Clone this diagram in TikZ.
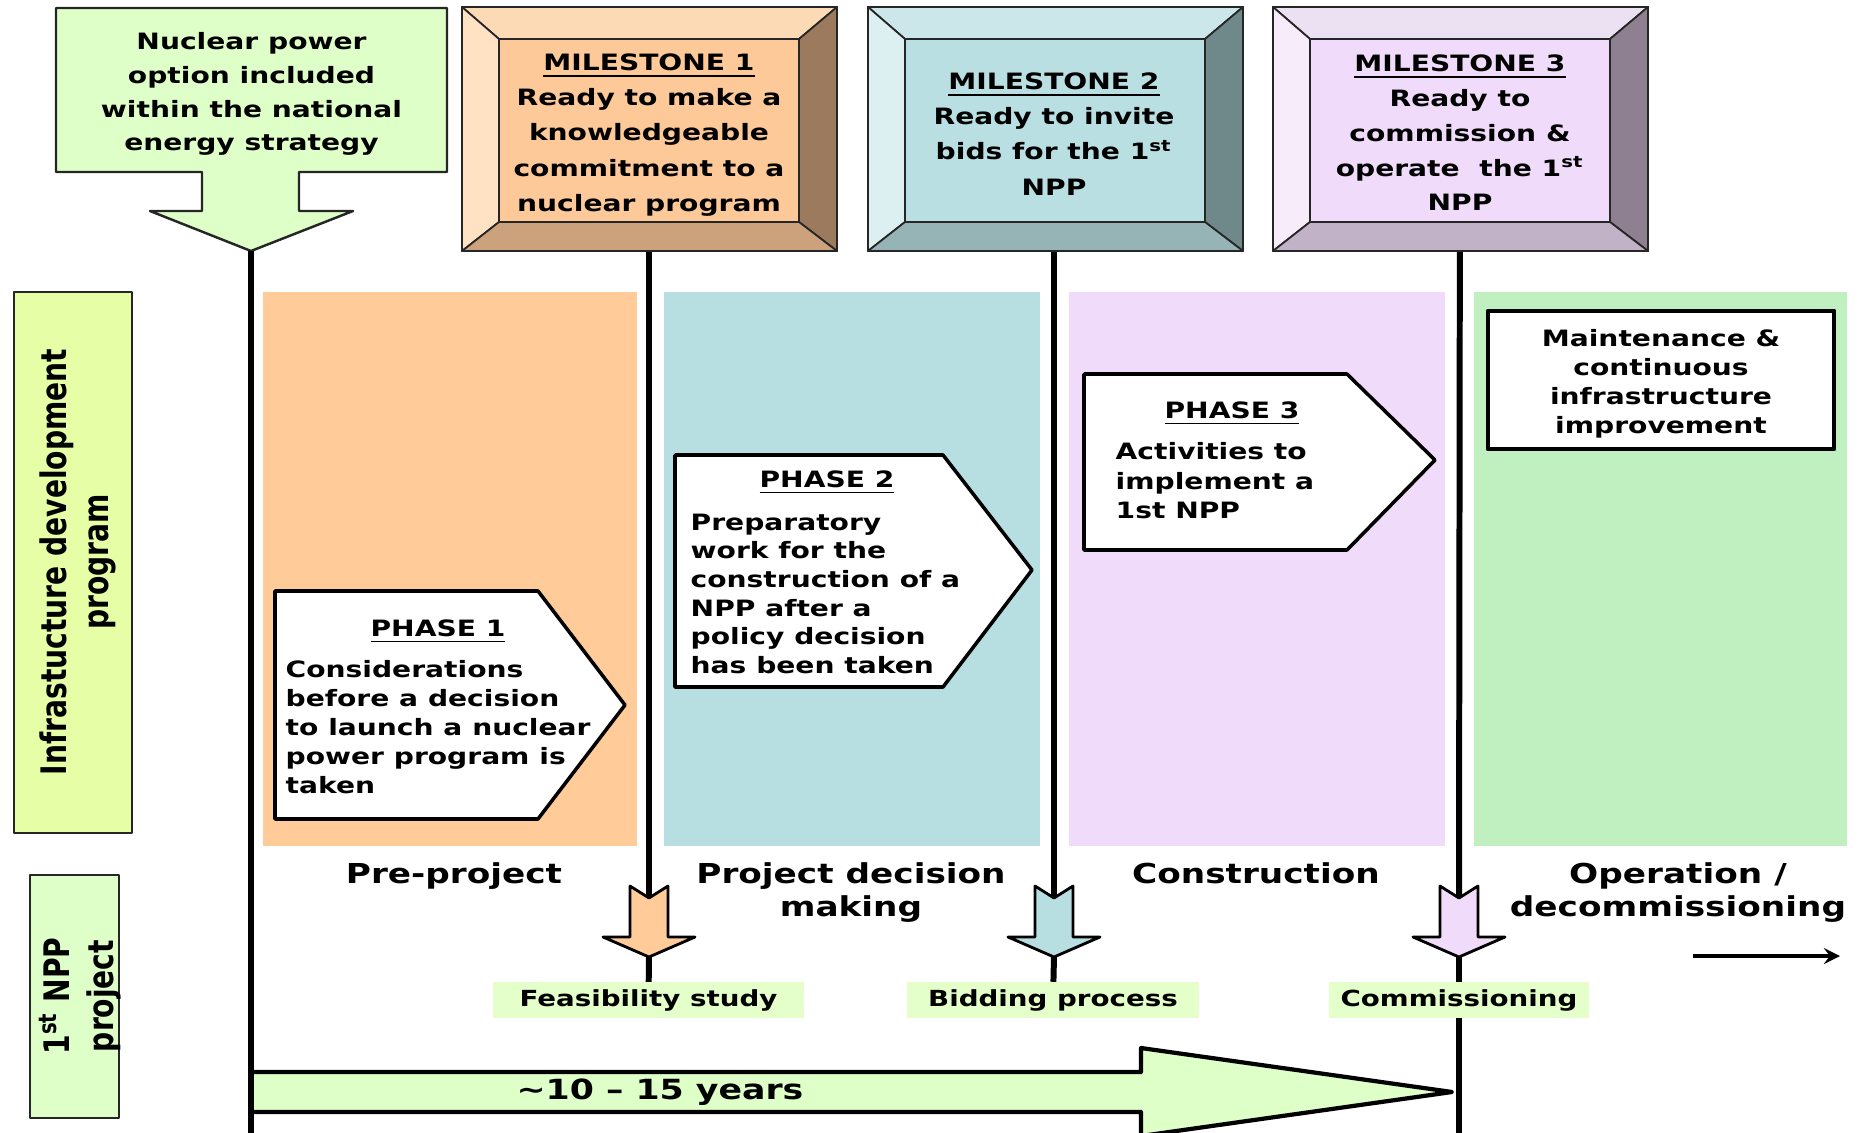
\documentclass[tikz,border=0pt]{standalone}
\usepackage{fontspec}
\setmainfont{DejaVu Sans}[FakeStretch=1.25]
\newfontfamily\rotfont{DejaVu Sans}[FakeStretch=0.8]
\usetikzlibrary{arrows,backgrounds}

\definecolor{npgreen}{RGB}{222,255,199}
\definecolor{infragreen}{RGB}{230,255,166}
\definecolor{stagegreen}{RGB}{228,255,202}
\definecolor{bandorange}{RGB}{255,204,153}
\definecolor{bandteal}{RGB}{183,223,226}
\definecolor{bandlilac}{RGB}{240,220,250}
\definecolor{bandgreen}{RGB}{192,240,192}
\definecolor{msain}{RGB}{253,201,152}
\definecolor{msatop}{RGB}{253,218,182}
\definecolor{msaleft}{RGB}{255,226,196}
\definecolor{msaright}{RGB}{156,122,94}
\definecolor{msabot}{RGB}{204,162,124}
\definecolor{msbin}{RGB}{185,223,227}
\definecolor{msbtop}{RGB}{203,231,234}
\definecolor{msbleft}{RGB}{220,240,242}
\definecolor{msbright}{RGB}{111,137,138}
\definecolor{msbbot}{RGB}{150,180,182}
\definecolor{mscin}{RGB}{240,220,250}
\definecolor{msctop}{RGB}{236,224,243}
\definecolor{mscleft}{RGB}{246,236,250}
\definecolor{mscright}{RGB}{143,128,145}
\definecolor{mscbot}{RGB}{194,178,200}

\begin{document}
\begin{tikzpicture}[x=0.01cm,y=-0.01cm,line join=round,>=stealth,font=\bfseries]
        \tikzset{
            vline/.style={line width=1.7pt},
            boxtext/.style={font=\bfseries\fontsize{6.4}{#1}\selectfont,align=center},
            bevel/.style={draw=black!85,line width=0.5pt},
            phasebox/.style={draw,fill=white,line width=1pt},
            phasetitle/.style={font=\bfseries\fontsize{6.4}{8}\selectfont,anchor=base,inner sep=0pt},
            phasebody/.style={font=\bfseries\fontsize{6.4}{#1}\selectfont,align=left,anchor=north west,inner sep=0pt},
            stagebox/.style={fill=stagegreen,minimum height=0.35cm,inner sep=0pt,font=\bfseries\fontsize{6.3}{7}\selectfont},
            stagearrow/.style={draw,line width=0.8pt},
            periodtext/.style={font=\bfseries\fontsize{7.8}{9.4}\selectfont,align=center,anchor=north,inner sep=0pt},
            sidebox/.style={draw=black!85,line width=0.6pt},
            sidetext/.style={rotate=90,align=center,inner sep=0pt,font=\rotfont\bfseries\fontsize{10}{#1}\selectfont}
        }
        \useasboundingbox (0,0) rectangle (1859,1133);
        % phase bands
        \foreach \xa/\xb/\c in {263/637/bandorange,664/1040/bandteal,1069/1445/bandlilac,1474/1847/bandgreen}
            \fill[\c] (\xa,292) rectangle (\xb,846);
        % side labels
        \filldraw[sidebox,fill=infragreen] (14,292) rectangle (132,833);
        \node (infra) [sidetext=11.8] at (78,562) {Infrastucture development\\program};
        \filldraw[sidebox,fill=npgreen] (30,875) rectangle (119,1118);
        \node (npp) [sidetext=12.5] at (80,996) {1\textsuperscript{st} NPP\\project};
        % national strategy
        \filldraw[fill=npgreen,draw=black!85,line width=0.7pt] (56,8) -- (447,8) -- (447,172) -- (299,172) -- (299,211) -- (353,211) -- (251,251) -- (150,211) -- (202,211) -- (202,172) -- (56,172) -- cycle;
        \node (np) [boxtext=9.6] at (251.5,94) {Nuclear power\\option included\\within the national\\energy strategy};
        \coordinate (nptip) at (251,251);
        \coordinate (npend) at (251,1133);
        % milestones
        \foreach \x/\ci/\ct/\cl/\cr/\cb in {462/msain/msatop/msaleft/msaright/msabot,868/msbin/msbtop/msbleft/msbright/msbbot,1273/mscin/msctop/mscleft/mscright/mscbot} {
            \filldraw[bevel,fill=\ct] (\x,7) -- (\x+375,7) -- (\x+337,39) -- (\x+37,39) -- cycle;
            \filldraw[bevel,fill=\cl] (\x,7) -- (\x+37,39) -- (\x+37,222) -- (\x,251) -- cycle;
            \filldraw[bevel,fill=\cr] (\x+375,7) -- (\x+375,251) -- (\x+337,222) -- (\x+337,39) -- cycle;
            \filldraw[bevel,fill=\cb] (\x,251) -- (\x+375,251) -- (\x+337,222) -- (\x+37,222) -- cycle;
            \draw[bevel,line width=0.8pt] (\x,7) rectangle (\x+375,251);
            \filldraw[bevel,line width=0.7pt,fill=\ci] (\x+37,39) rectangle (\x+337,222);
        }
        \node (ms1) [boxtext=10] at (649,135) {\underline{MILESTONE 1}\\Ready to make a\\knowledgeable\\commitment to a\\nuclear program};
        \node (ms2) [boxtext=10] at (1054,134) {\underline{MILESTONE 2}\\Ready to invite\\bids for the 1\textsuperscript{st}\\NPP};
        \node (ms3) [boxtext=9.9] at (1460,133) {\underline{MILESTONE 3}\\Ready to\\commission \&\\operate\ \ the 1\textsuperscript{st}\\NPP};
        % phases
        \filldraw[phasebox] (275,591) -- (538,591) -- (625,705) -- (538,819) -- (275,819) -- cycle;
        \node (ph1) [phasetitle] at (438,636) {\underline{PHASE 1}};
        \node (ph1txt) [phasebody=8.2] at (285,660) {Considerations\\before a decision\\to launch a nuclear\\power program is\\taken};
        \filldraw[phasebox] (675,455) -- (943,455) -- (1032,570) -- (943,687) -- (675,687) -- cycle;
        \node (ph2) [phasetitle] at (827,487) {\underline{PHASE 2}};
        \node (ph2txt) [phasebody=8.15] at (690,513) {Preparatory\\work for the\\construction of a\\NPP after a\\policy decision\\has been taken};
        \filldraw[phasebox] (1084,374) -- (1347,374) -- (1435,460) -- (1347,550) -- (1084,550) -- cycle;
        \node (ph3) [phasetitle] at (1232,418) {\underline{PHASE 3}};
        \node (ph3txt) [phasebody=8.4] at (1115,442) {Activities to\\implement a\\1st NPP};
        \draw[line width=1.4pt,fill=white] (1488,311) rectangle (1834,449);
        \node (mt) [boxtext=8.2] at (1661,384) {Maintenance \&\\continuous\\infrastructure\\improvement};
        % periods
        \node (pre) [periodtext] at (454,862) {Pre-project};
        \node (dec) [periodtext] at (851,862) {Project decision\\making};
        \node (con) [periodtext] at (1256,862) {Construction};
        \node (ope) [periodtext] at (1678,862) {Operation /\\decommissioning};
        \coordinate (opa) at (1693,956);
        \coordinate (opb) at (1840,956);
        \draw[->,line width=1pt] (opa) -- (opb);
        % stage arrows and boxes
        \foreach \c/\f [count=\i] in {649/bandorange,1054/bandteal,1459/bandlilac} {
            \filldraw[stagearrow,fill=\f] (\c-19,886) -- (\c,898) -- (\c+19,886) -- (\c+19,937) -- (\c+46,937) -- (\c,957) -- (\c-46,937) -- (\c-19,937) -- cycle;
            \coordinate (top\i) at (\c,898);
            \coordinate (tip\i) at (\c,957);
        }
        \node (fs) [stagebox,minimum width=3.11cm] at (648.5,1000) {Feasibility study};
        \node (bp) [stagebox,minimum width=2.92cm] at (1053,1000) {Bidding process};
        \node (cm) [stagebox,minimum width=2.6cm] at (1459,1000) {Commissioning};
        \coordinate (cmend) at (1459,1133);
        % duration arrow
        \filldraw[fill=npgreen,line width=1.2pt] (251,1072) -- (1141,1072) -- (1141,1048) -- (1452,1092) -- (1141,1136) -- (1141,1112) -- (251,1112) -- cycle;
        \node (yrs) [font=\bfseries\fontsize{7.9}{9}\selectfont] at (660,1092) {∼10 – 15 years};
        \draw[vline] (nptip) -- (npend);
        \begin{scope}[on background layer]
            \draw[vline] (ms1) -- (top1);
            \draw[vline] (ms2) -- (top2);
            \draw[vline] (ms3) -- (top3);
            \draw[vline] (tip1) -- (fs);
            \draw[vline] (tip2) -- (bp);
            \draw[vline] (tip3) -- (cm);
            \draw[vline] (cm) -- (cmend);
        \end{scope}
\end{tikzpicture}
\end{document}
